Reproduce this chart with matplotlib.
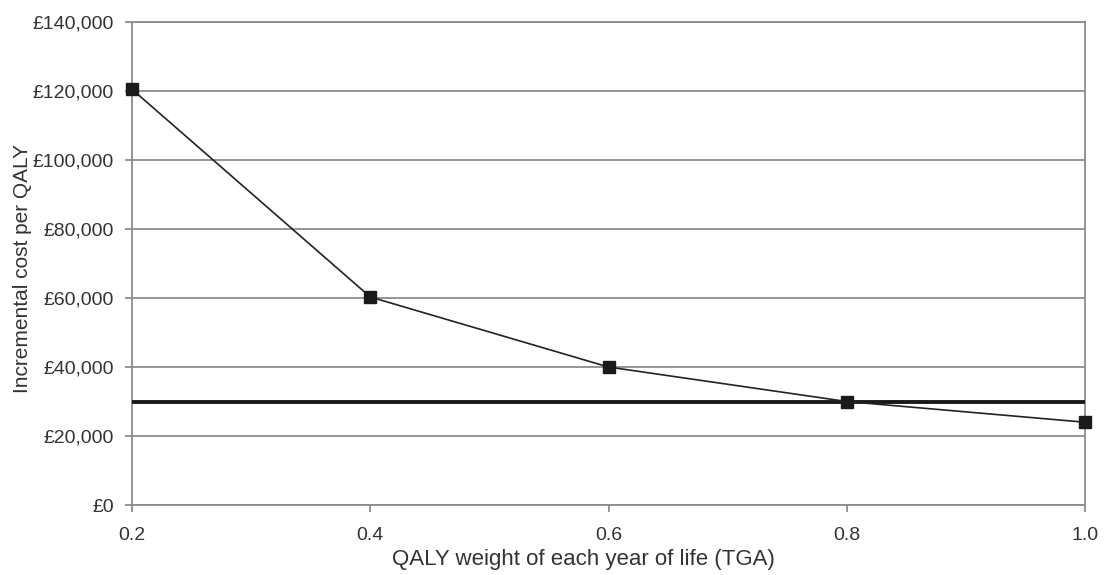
import matplotlib
matplotlib.use("Agg")
import matplotlib.pyplot as plt
from matplotlib.ticker import FuncFormatter

qaly_weight = [0.2, 0.4, 0.6, 0.8, 1.0]
icer = [120500, 60300, 40000, 30000, 24000]
threshold = 30000
y_ticks = [0, 20000, 40000, 60000, 80000, 100000, 120000, 140000]
x_ticks = [0.2, 0.4, 0.6, 0.8, 1.0]

plt.rcParams['font.family'] = ['Liberation Sans', 'DejaVu Sans']

fig = plt.figure(figsize=(11.04, 5.75), dpi=100)
ax = fig.add_axes([0.1196, 0.1217, 0.8632, 0.84])

ax.set_xlim(0.2, 1.0)
ax.set_ylim(0, 140000)
ax.set_yticks(y_ticks)
ax.set_xticks(x_ticks)
ax.yaxis.set_major_formatter(FuncFormatter(lambda v, p: "£{:,.0f}".format(v)))
ax.xaxis.set_major_formatter(FuncFormatter(lambda v, p: "{:.1f}".format(v)))

ax.grid(axis='y', color='#8c8c8c', linewidth=1.3)
ax.set_axisbelow(True)
for s in ax.spines.values():
    s.set_color('#8c8c8c')
    s.set_linewidth(1.3)

ax.axhline(threshold, color='#1a1a1a', linewidth=2.8, zorder=3)
ax.plot(qaly_weight, icer, color='#222222', linewidth=1.2, marker='s',
        markersize=8.5, markerfacecolor='#1a1a1a', markeredgecolor='#1a1a1a',
        zorder=4, clip_on=False)

ax.tick_params(axis='both', colors='#8c8c8c', labelcolor='#333333',
               labelsize=14, length=5, width=1.3, direction='out')
ax.tick_params(axis='y', pad=8)
ax.tick_params(axis='x', pad=11)
ax.set_xlabel("QALY weight of each year of life (TGA)", fontsize=16, color='#333333')
ax.set_ylabel("Incremental cost per QALY", fontsize=15, color='#333333')
ax.xaxis.set_label_coords(0.474, -0.091)
ax.yaxis.set_label_coords(-0.1045, 0.489)

fig.savefig("out.png", dpi=100)
